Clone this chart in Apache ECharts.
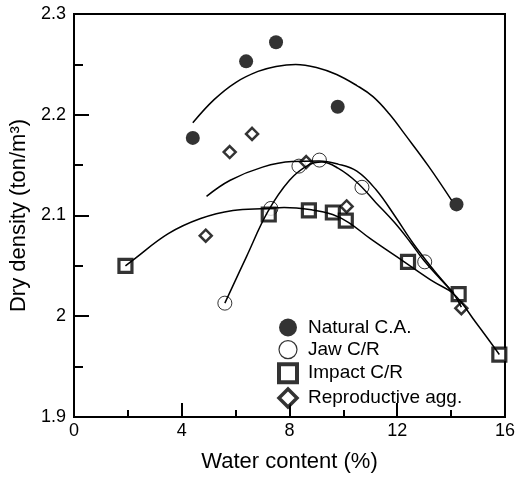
<!DOCTYPE html>
<html>
<head>
<meta charset="utf-8">
<script src="https://cdn.jsdelivr.net/npm/echarts@6/dist/echarts.min.js"></script>
<style>
  html, body { margin: 0; padding: 0; background: #fff; }
  #chartContainer { width: 518px; height: 478px; }
</style>
</head>
<body>
<div id="chartContainer"></div>
<script>
var xTicks = [0, 4, 8, 12, 16];
var yTicks = [1.9, 2, 2.1, 2.2, 2.3];

// measured points [water content %, dry density]
var natural = [[4.41, 2.177], [6.39, 2.253], [7.50, 2.272], [9.79, 2.208], [14.2, 2.111]];
var jaw = [[5.60, 2.013], [7.31, 2.107], [8.35, 2.149], [9.11, 2.155], [10.69, 2.128], [13.02, 2.054]];
var impact = [[1.91, 2.050], [7.23, 2.101], [8.72, 2.105], [9.61, 2.103], [10.09, 2.095], [12.40, 2.054], [14.28, 2.022], [15.79, 1.962]];
var repro = [[4.89, 2.080], [5.78, 2.163], [6.61, 2.181], [8.62, 2.153], [10.12, 2.109], [14.38, 2.008]];

// fitted curves
var naturalFit = [[4.41, 2.192], [5.2, 2.215], [6.0, 2.232], [6.83, 2.243], [7.5, 2.248], [8.23, 2.250], [9.0, 2.247], [9.75, 2.240], [10.5, 2.229], [11.1, 2.218], [11.7, 2.201], [12.3, 2.180], [13.16, 2.149], [14.02, 2.115]];
var jawFit = [[5.6, 2.013], [6.4, 2.059], [7.2, 2.104], [8.0, 2.135], [8.7, 2.150], [9.2, 2.153], [9.8, 2.147], [10.5, 2.133], [11.2, 2.113], [11.9, 2.093], [12.5, 2.073], [13.0, 2.055], [13.6, 2.037], [14.1, 2.023]];
var reproFit = [[4.92, 2.119], [5.8, 2.135], [7.0, 2.148], [8.1, 2.1535], [9.1, 2.154], [9.8, 2.151], [10.5, 2.144], [11.2, 2.126], [11.9, 2.100], [12.6, 2.072], [13.35, 2.046], [14.1, 2.022], [14.38, 2.009]];
var impactFit = [[1.91, 2.050], [2.2, 2.056], [3.5, 2.082], [4.7, 2.097], [5.9, 2.105], [7.15, 2.107], [7.8, 2.108], [8.85, 2.1055], [9.6, 2.101], [10.2, 2.093], [11.0, 2.077], [12.26, 2.054], [13.36, 2.034], [14.1, 2.022], [14.94, 1.993], [15.79, 1.962]];

var font = 'Liberation Sans, Arial, Helvetica, sans-serif';

function fitLine(name, data) {
    return {
        name: name,
        type: 'line',
        data: data,
        smooth: 0.4,
        showSymbol: false,
        silent: true,
        lineStyle: {color: '#000', width: 1.5}
    };
}

var chart = echarts.init(document.getElementById('chartContainer'));
var option = {
    animation: false,
    backgroundColor: '#fff',
    grid: {
        left: 71, right: 9, top: 14, bottom: 61,
        show: true, borderColor: '#000', borderWidth: 2
    },
    legend: {
        orient: 'vertical',
        left: 272,
        top: 313,
        itemWidth: 18,
        itemHeight: 18,
        itemGap: 3,
        data: [
            {name: 'Natural C.A.'},
            {name: 'Jaw C/R', itemStyle: {borderWidth: 1.2}},
            {name: 'Impact C/R', itemStyle: {borderWidth: 4}},
            {name: 'Reproductive agg.', itemStyle: {borderWidth: 3.5}}
        ],
        textStyle: {fontSize: 19, color: '#000', fontFamily: font, padding: [0, 0, 0, 6]}
    },
    xAxis: {
        type: 'value',
        min: xTicks[0],
        max: xTicks[xTicks.length - 1],
        interval: 4,
        name: 'Water content (%)',
        nameLocation: 'middle',
        nameGap: 34,
        nameTextStyle: {fontSize: 22, color: '#000', fontFamily: font},
        axisLine: {lineStyle: {color: '#000', width: 2}},
        axisTick: {inside: true, length: 14, lineStyle: {color: '#000', width: 2}},
        minorTick: {show: true, splitNumber: 2, length: 7, lineStyle: {color: '#000', width: 2}},
        splitLine: {show: false},
        axisLabel: {fontSize: 18, color: '#000', fontFamily: font, margin: 5}
    },
    yAxis: {
        type: 'value',
        min: yTicks[0],
        max: yTicks[yTicks.length - 1],
        interval: 0.1,
        name: 'Dry density (ton/m³)',
        nameLocation: 'middle',
        nameGap: 44,
        nameTextStyle: {fontSize: 22, color: '#000', fontFamily: font},
        axisLine: {lineStyle: {color: '#000', width: 2}},
        axisTick: {inside: true, length: 15, lineStyle: {color: '#000', width: 2}},
        minorTick: {show: true, splitNumber: 2, length: 9, lineStyle: {color: '#000', width: 2}},
        splitLine: {show: false},
        axisLabel: {fontSize: 18, color: '#000', fontFamily: font, margin: 8}
    },
    series: [
        fitLine('Natural fit', naturalFit),
        fitLine('Jaw fit', jawFit),
        fitLine('Reproductive fit', reproFit),
        fitLine('Impact fit', impactFit),
        {
            name: 'Natural C.A.',
            type: 'scatter',
            data: natural,
            symbol: 'circle',
            symbolSize: 14,
            itemStyle: {color: '#000'}
        },
        {
            name: 'Jaw C/R',
            type: 'scatter',
            data: jaw,
            symbol: 'circle',
            symbolSize: 14,
            itemStyle: {color: '#fff', borderColor: '#000', borderWidth: 1}
        },
        {
            name: 'Impact C/R',
            type: 'scatter',
            data: impact,
            symbol: 'rect',
            symbolSize: 13,
            itemStyle: {color: '#fff', borderColor: '#000', borderWidth: 3.2}
        },
        {
            name: 'Reproductive agg.',
            type: 'scatter',
            data: repro,
            symbol: 'diamond',
            symbolSize: 12,
            itemStyle: {color: '#fff', borderColor: '#000', borderWidth: 2.5}
        }
    ]
};
chart.setOption(option);
</script>
</body>
</html>
